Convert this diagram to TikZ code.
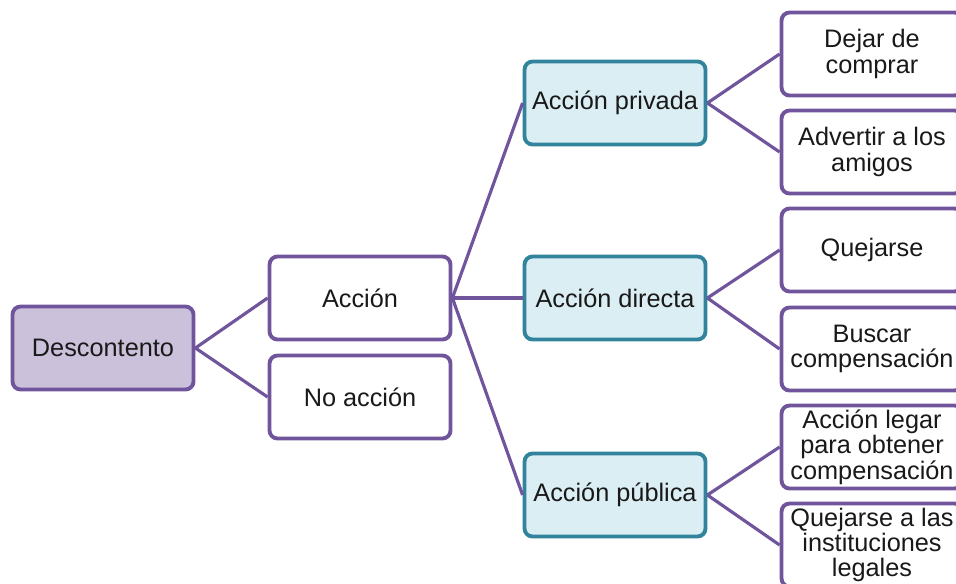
\documentclass[tikz,border=0pt]{standalone}
\usepackage{fontspec}
\setmainfont{Liberation Sans}
\usepackage{tikz}

\definecolor{lila}{RGB}{112,84,156}
\definecolor{lilafill}{RGB}{204,193,218}
\definecolor{azul}{RGB}{49,132,155}
\definecolor{azulfill}{RGB}{219,238,244}

\begin{document}
\begin{tikzpicture}[x=0.02cm, y=-0.02cm,
  every node/.style={font=\fontsize{14.4}{14.4}\selectfont, text=black!90, align=center},
  caja/.style={draw=lila, line width=2.2pt, rounded corners=0.16cm, fill=white,
    minimum width=3.62cm, minimum height=1.66cm, inner sep=1pt},
  raiz/.style={caja, fill=lilafill},
  rama/.style={caja, draw=azul, fill=azulfill},
  linea/.style={draw=lila, line width=1.8pt}]
  \clip (0,0) rectangle (956,583);
  \node[raiz] (D) at (103,348) {Descontento};
  \node[caja] (A) at (360,298) {Acción};
  \node[caja] (NA) at (360,397) {No acción};
  \node[rama] (AP) at (615,103) {Acción privada};
  \node[rama] (AD) at (615,298) {Acción directa};
  \node[rama] (APu) at (615,495) {Acción pública};
  \node[caja] (DC) at (872,54) {Dejar de\\comprar};
  \node[caja] (AA) at (872,152) {Advertir a los\\amigos};
  \node[caja] (Q) at (872,250) {Quejarse};
  \node[caja] (BC) at (872,349) {Buscar\\compensación};
  \node[caja] (AL) at (872,447) {Acción legar\\para obtener\\compensación};
  \node[caja] (QI) at (872,545) {Quejarse a las\\instituciones\\legales};
  \draw[linea] (D.east) -- (A.west);
  \draw[linea] (D.east) -- (NA.west);
  \draw[linea] (A.east) -- (AP.west);
  \draw[linea] (A.east) -- (AD.west);
  \draw[linea] (A.east) -- (APu.west);
  \draw[linea] (AP.east) -- (DC.west);
  \draw[linea] (AP.east) -- (AA.west);
  \draw[linea] (AD.east) -- (Q.west);
  \draw[linea] (AD.east) -- (BC.west);
  \draw[linea] (APu.east) -- (AL.west);
  \draw[linea] (APu.east) -- (QI.west);
\end{tikzpicture}
\end{document}
